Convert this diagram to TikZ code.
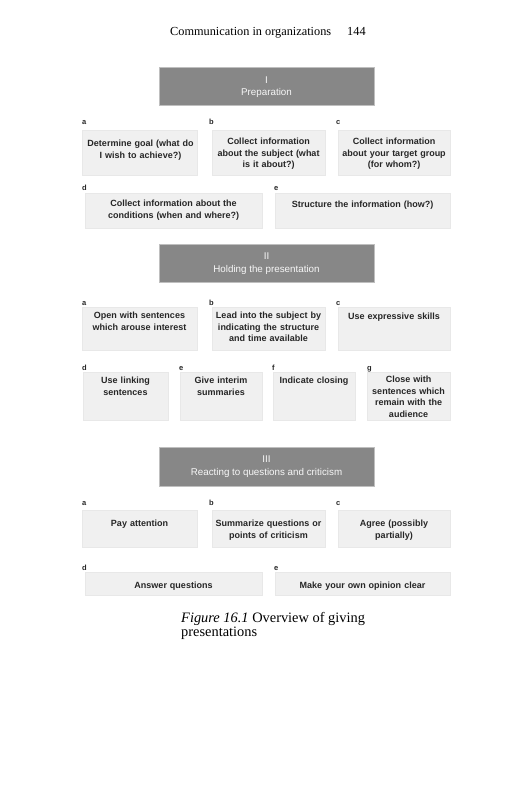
\documentclass[tikz,border=0pt]{standalone}
\usepackage{fontspec}
\setmainfont{Liberation Serif}
\setsansfont{Liberation Sans}
\begin{document}
\begin{tikzpicture}[x=1pt,y=-1pt,
  hdrbox/.style={draw=black!25,line width=0.8pt,fill=black!47,inner sep=0pt},
  hdrtext/.style={text=black!3,font=\sffamily\fontsize{9.8}{12.5}\selectfont,align=center,inner sep=0pt},
  itembox/.style={fill=black!6,draw=black!9,line width=0.6pt,inner sep=0pt},
  itemtext/.style={text=black!85,font=\sffamily\bfseries\fontsize{9}{11.6}\selectfont,align=center,inner sep=0pt,anchor=north},
  lbl/.style={text=black!85,font=\sffamily\bfseries\fontsize{7.5}{8}\selectfont,inner sep=0pt,anchor=base west},
  pagetext/.style={font=\fontsize{12.3}{14}\selectfont,inner sep=0pt}]
\useasboundingbox[fill=white] (0,0) rectangle (531,800);
% page header
\node[pagetext,anchor=base west] (runhead) at (170,36) {Communication in organizations};
\node[pagetext,anchor=base west] (pagenum) at (347,36) {144};

% ===== Section I =====
\node[hdrbox,minimum width=215,minimum height=38] (H1) at (266.5,86) {};
\node[hdrtext] (H1t) at (266.5,87) {I\\Preparation};
\node[lbl] (I-la) at (82,124) {a};
\node[lbl] (I-lb) at (209,124) {b};
\node[lbl] (I-lc) at (336,124) {c};
\node[itembox,minimum width=115,minimum height=45] (I-a) at (139.5,152.5) {};
\node[itembox,minimum width=113,minimum height=45] (I-b) at (268.5,152.5) {};
\node[itembox,minimum width=112,minimum height=45] (I-c) at (394,152.5) {};
\node[itemtext,text width=120] (I-at) at (140.5,140) {Determine goal (what do\\I wish to achieve?)};
\node[itemtext,text width=120] (I-bt) at (268.5,138) {Collect information\\about the subject (what\\is it about?)};
\node[itemtext,text width=120] (I-ct) at (394,138) {Collect information\\about your target group\\(for whom?)};
\node[lbl] (I-ld) at (82,190) {d};
\node[lbl] (I-le) at (274,190) {e};
\node[itembox,minimum width=177,minimum height=35] (I-d) at (173.5,210.5) {};
\node[itembox,minimum width=175,minimum height=35] (I-e) at (362.5,210.5) {};
\node[itemtext,text width=175] (I-dt) at (173.5,200) {Collect information about the\\conditions (when and where?)};
\node[itemtext,text width=175] (I-et) at (362.5,201) {Structure the information (how?)};

% ===== Section II =====
\node[hdrbox,minimum width=215,minimum height=38] (H2) at (266.5,263) {};
\node[hdrtext] (H2t) at (266.5,263.5) {II\\Holding the presentation};
\node[lbl] (II-la) at (82,305) {a};
\node[lbl] (II-lb) at (209,305) {b};
\node[lbl] (II-lc) at (336,305) {c};
\node[itembox,minimum width=115,minimum height=43] (II-a) at (139.5,328.5) {};
\node[itembox,minimum width=113,minimum height=43] (II-b) at (268.5,328.5) {};
\node[itembox,minimum width=112,minimum height=43] (II-c) at (394,328.5) {};
\node[itemtext,text width=120] (II-at) at (139.5,312) {Open with sentences\\which arouse interest};
\node[itemtext,text width=120] (II-bt) at (268.5,312) {Lead into the subject by\\indicating the structure\\and time available};
\node[itemtext,text width=120] (II-ct) at (394,313) {Use expressive skills};
\node[lbl] (II-ld) at (82,370) {d};
\node[lbl] (II-le) at (179,370) {e};
\node[lbl] (II-lf) at (272,370) {f};
\node[lbl] (II-lg) at (367,370) {g};
\node[itembox,minimum width=85,minimum height=48] (II-d) at (125.5,396) {};
\node[itembox,minimum width=82,minimum height=48] (II-e) at (221,396) {};
\node[itembox,minimum width=82,minimum height=48] (II-f) at (314,396) {};
\node[itembox,minimum width=83,minimum height=48] (II-g) at (408.5,396) {};
\node[itemtext,text width=90] (II-dt) at (125.5,377) {Use linking\\sentences};
\node[itemtext,text width=90] (II-et) at (221,377) {Give interim\\summaries};
\node[itemtext,text width=90] (II-ft) at (314,377) {Indicate closing};
\node[itemtext,text width=90] (II-gt) at (408.5,376) {Close with\\sentences which\\remain with the\\audience};

% ===== Section III =====
\node[hdrbox,minimum width=215,minimum height=39] (H3) at (266.5,466.5) {};
\node[hdrtext] (H3t) at (266.5,466.5) {III\\Reacting to questions and criticism};
\node[lbl] (III-la) at (82,505) {a};
\node[lbl] (III-lb) at (209,505) {b};
\node[lbl] (III-lc) at (336,505) {c};
\node[itembox,minimum width=115,minimum height=37] (III-a) at (139.5,528.5) {};
\node[itembox,minimum width=113,minimum height=37] (III-b) at (268.5,528.5) {};
\node[itembox,minimum width=112,minimum height=37] (III-c) at (394,528.5) {};
\node[itemtext,text width=120] (III-at) at (139.5,520) {Pay attention};
\node[itemtext,text width=120] (III-bt) at (268.5,520) {Summarize questions or\\points of criticism};
\node[itemtext,text width=120] (III-ct) at (394,520) {Agree (possibly\\partially)};
\node[lbl] (III-ld) at (82,570) {d};
\node[lbl] (III-le) at (274,570) {e};
\node[itembox,minimum width=177,minimum height=23] (III-d) at (173.5,583.5) {};
\node[itembox,minimum width=175,minimum height=23] (III-e) at (362.5,583.5) {};
\node[itemtext,text width=175] (III-dt) at (173.5,582) {Answer questions};
\node[itemtext,text width=175] (III-et) at (362.5,582) {Make your own opinion clear};

% caption
\node[pagetext,anchor=base west,align=left,font=\fontsize{14.4}{13.5}\selectfont] (cap) at (181,636) {\textit{Figure 16.1} Overview of giving\\presentations};
\end{tikzpicture}
\end{document}
